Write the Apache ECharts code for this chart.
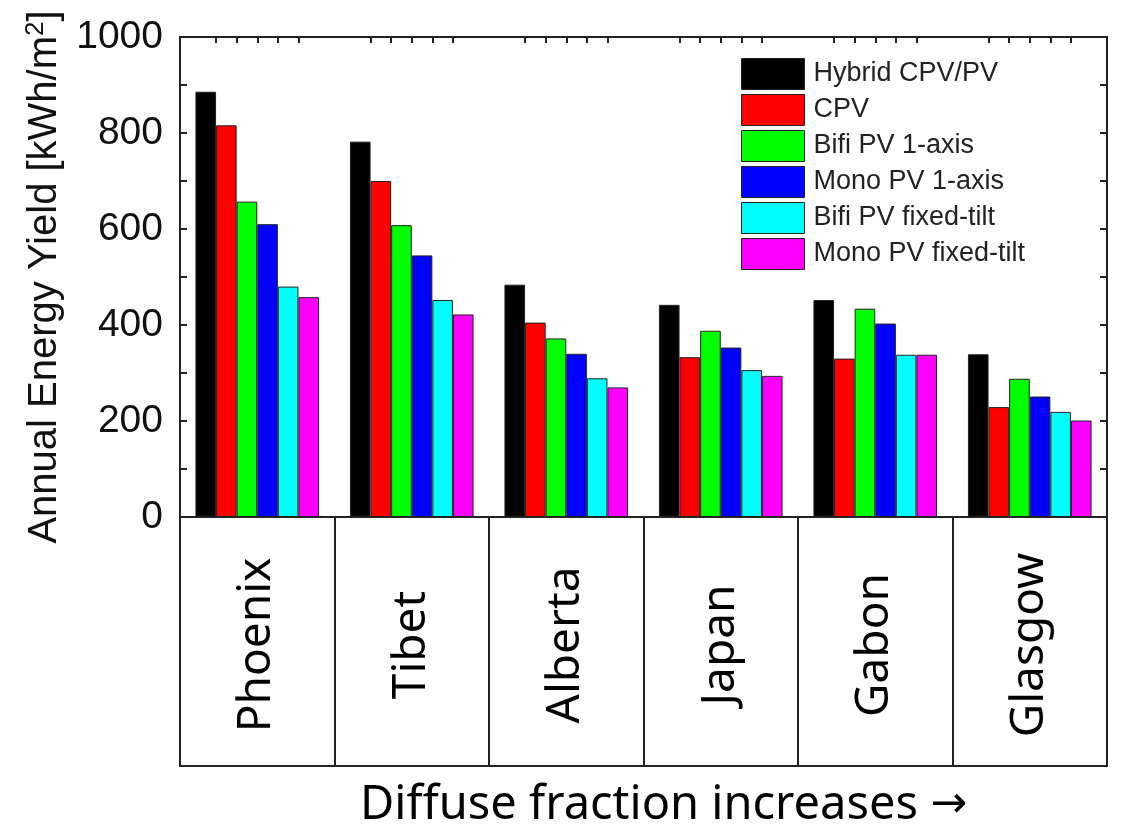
<!DOCTYPE html>
<html>
<head>
<meta charset="utf-8">
<script src="https://cdn.jsdelivr.net/npm/echarts@6/dist/echarts.min.js"></script>
<style>html,body{margin:0;padding:0;background:#fff;}#c{width:1122px;height:829px;}</style>
</head>
<body>
<div id="c"></div>
<script>
const categories = ['Phoenix', 'Tibet', 'Alberta', 'Japan', 'Gabon', 'Glasgow'];
const seriesNames = ['Hybrid CPV/PV', 'CPV', 'Bifi PV 1-axis', 'Mono PV 1-axis', 'Bifi PV fixed-tilt', 'Mono PV fixed-tilt'];
const hybrid = [886, 782, 484, 442, 452, 339];
const cpv = [816, 700, 405, 333, 330, 229];
const bifi1axis = [657, 608, 372, 388, 434, 288];
const mono1axis = [610, 545, 340, 353, 403, 251];
const bifiFixed = [480, 452, 289, 306, 338, 219];
const monoFixed = [458, 422, 270, 294, 338, 201];
const yTicks = [0, 200, 400, 600, 800, 1000];
const colors = ['#000000', '#ff0000', '#00ff00', '#0000ff', '#00ffff', '#ff00ff'];
const yAxisTitle = '{n|Annual Energy Yield [kWh/m}{s|2}{n|]}';
const xAxisTitle = '{t|Diffuse fraction increases }{a|\u2192}';

// helper slots for the top-frame minor ticks (30 slots per category, ticks between bars)
const topSlots = [];
categories.forEach(c => { for (let k = 0; k < 30; k++) topSlots.push(c + '_' + k); });
const topTickSlots = [7, 11, 15, 19, 23];

const allValues = [hybrid, cpv, bifi1axis, mono1axis, bifiFixed, monoFixed];
const lineC = '#222';

const chart = echarts.init(document.getElementById('c'));
chart.setOption({
  animation: false,
  backgroundColor: '#fff',
  grid: [
    {left: 180, top: 37, width: 927, height: 480, show: true, borderColor: lineC, borderWidth: 2, outerBoundsMode: 'none'},
    {left: 180, top: 517, width: 927, height: 249, show: true, borderColor: lineC, borderWidth: 2, outerBoundsMode: 'none'}
  ],
  legend: {
    orient: 'vertical', left: 741, top: 58, padding: 0,
    itemWidth: 63, itemHeight: 31, itemGap: 4, icon: 'rect',
    itemStyle: {borderColor: '#222', borderWidth: 1},
    textStyle: {fontFamily: 'Liberation Sans', fontSize: 27, color: '#222', lineHeight: 31, padding: [0, 0, 0, 4]},
    data: seriesNames
  },
  xAxis: [
    {
      type: 'category', gridIndex: 0, data: categories, position: 'bottom',
      axisLine: {show: false, onZero: false},
      axisTick: {show: true, inside: false, length: 249, alignWithLabel: false, lineStyle: {color: lineC, width: 2}},
      axisLabel: {interval: 0, rotate: 90, margin: 128, align: 'center', verticalAlign: 'middle',
        fontFamily: 'Noto Sans', fontSize: 46, color: '#000'},
      name: xAxisTitle, nameLocation: 'middle', nameGap: 289,
      nameTextStyle: {fontFamily: 'Noto Sans', fontSize: 47, color: '#000', verticalAlign: 'middle', padding: [0, 0, 0, 40],
        rich: {
          t: {fontFamily: 'Noto Sans', fontSize: 47, color: '#000'},
          a: {fontFamily: 'DejaVu Sans', fontSize: 44, color: '#000'}
        }}
    },
    {
      type: 'category', gridIndex: 0, data: topSlots, position: 'top',
      axisLine: {show: false, onZero: false}, axisLabel: {show: false},
      axisTick: {show: true, inside: true, length: 6, lineStyle: {color: lineC, width: 2},
        interval: (idx) => topTickSlots.includes(idx % 30)}
    },
    {type: 'category', gridIndex: 1, data: categories, show: false}
  ],
  yAxis: [
    {
      type: 'value', gridIndex: 0, min: 0, max: 1000, interval: 100, position: 'left',
      axisLine: {show: false, onZero: false}, splitLine: {show: false},
      axisTick: {show: true, inside: true, length: 7, lineStyle: {color: lineC, width: 2}},
      axisLabel: {margin: 17, fontFamily: 'Liberation Sans', fontSize: 39, color: '#111',
        formatter: v => (yTicks.includes(v) ? String(v) : '')},
      name: yAxisTitle, nameLocation: 'middle', nameGap: 124,
      nameTextStyle: {fontFamily: 'Liberation Sans', fontSize: 40, color: '#111', verticalAlign: 'middle',
        rich: {
          n: {fontFamily: 'Liberation Sans', fontSize: 40, color: '#111', lineHeight: 46},
          s: {fontFamily: 'Liberation Sans', fontSize: 26, color: '#111', lineHeight: 46, verticalAlign: 'top', padding: [0, 0, 14, 0]}
        }}
    },
    {
      type: 'value', gridIndex: 0, min: 0, max: 1000, interval: 100, position: 'right',
      axisLine: {show: false, onZero: false}, splitLine: {show: false}, axisLabel: {show: false},
      axisTick: {show: true, inside: true, length: 7, lineStyle: {color: lineC, width: 2}}
    },
    {type: 'value', gridIndex: 1, show: false, splitLine: {show: false}}
  ],
  series: seriesNames.map((n, i) => ({
    name: n, type: 'bar', xAxisIndex: 0, yAxisIndex: 0,
    data: allValues[i],
    barGap: '0%', barCategoryGap: '20%',
    itemStyle: {color: colors[i], borderColor: '#222', borderWidth: 1}
  }))
});
</script>
</body>
</html>
